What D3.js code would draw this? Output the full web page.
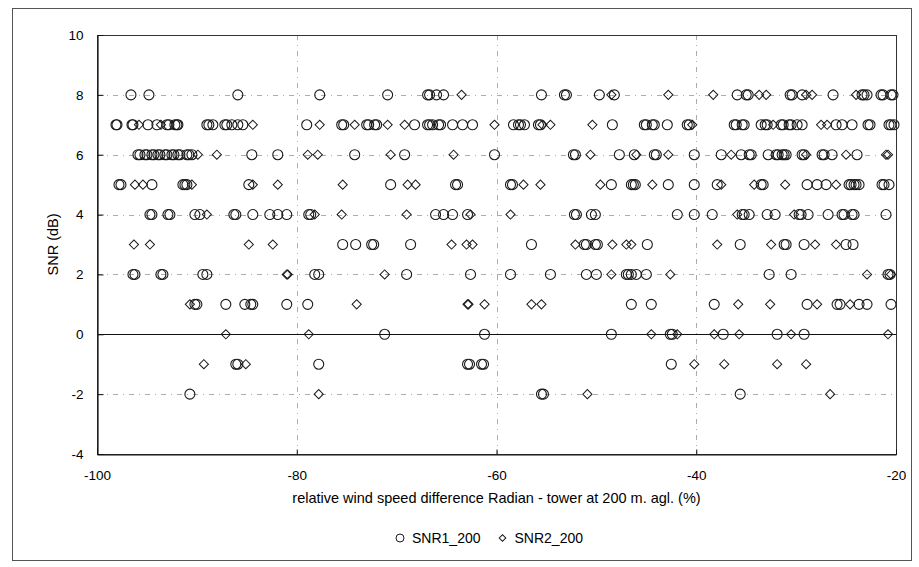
<!DOCTYPE html>
<html>
<head>
<meta charset="utf-8">
<script src="https://cdn.jsdelivr.net/npm/d3@7"></script>
<style>
  html, body { margin: 0; padding: 0; background: #fff; }
  svg { display: block; }
  text { font-family: "Liberation Sans", Arial, sans-serif; fill: #000; }
</style>
</head>
<body>
<svg id="chart" width="919" height="567"></svg>
<script>
// ---------- data ----------
const snrLevels = [8, 7, 6, 5, 4, 3, 2, 1, 0, -1, -2];

// SNR1_200 (circles): relative wind speed difference (%) per SNR level, same order as snrLevels
const snr1Diff = [
  [-96.6, -94.8, -85.9, -77.7, -70.9, -66.9, -66.7, -66.0, -65.3, -55.5, -53.2, -53.0, -49.7, -48.2, -35.9, -35.0, -34.8, -30.6, -30.4, -29.4, -26.3, -23.4, -23.2, -22.9, -21.5, -21.3, -20.5, -20.3],
  [-98.1, -98.0, -96.5, -96.4, -94.9, -94.0, -93.0, -92.8, -92.2, -92.0, -91.9, -89.0, -88.8, -88.4, -87.2, -87.0, -86.5, -85.9, -85.4, -79.0, -75.5, -75.3, -73.0, -72.8, -72.2, -72.0, -68.2, -66.9, -66.7, -66.4, -65.8, -65.6, -64.4, -63.4, -62.4, -58.3, -57.8, -57.6, -57.2, -55.8, -55.6, -48.4, -45.2, -45.0, -44.4, -44.2, -42.9, -40.9, -40.7, -36.2, -36.0, -35.4, -35.2, -33.5, -33.1, -32.9, -31.5, -31.3, -30.7, -30.5, -29.9, -29.4, -26.0, -25.4, -24.4, -22.8, -22.6, -20.7, -20.5, -20.2],
  [-95.9, -95.7, -95.2, -95.0, -94.5, -94.3, -93.9, -93.7, -93.2, -93.0, -92.5, -92.3, -91.9, -91.7, -91.0, -90.8, -90.5, -84.5, -81.9, -74.2, -69.2, -60.2, -52.3, -52.1, -47.7, -46.2, -44.2, -44.0, -40.2, -37.5, -35.5, -34.7, -34.5, -32.8, -32.0, -31.8, -31.4, -31.2, -31.0, -29.4, -29.2, -27.4, -27.2, -26.4, -23.9],
  [-97.8, -97.6, -94.5, -91.4, -91.2, -91.0, -84.8, -70.6, -64.1, -63.9, -58.6, -58.4, -48.5, -46.5, -46.3, -46.1, -42.8, -40.2, -37.9, -33.5, -33.3, -28.9, -27.9, -27.0, -24.7, -24.5, -24.2, -24.0, -23.7, -21.4, -21.2, -20.7],
  [-94.7, -94.5, -92.9, -92.7, -90.2, -89.7, -86.3, -86.1, -84.4, -82.7, -81.9, -81.0, -78.8, -78.6, -66.1, -65.3, -64.4, -62.9, -52.2, -52.0, -50.5, -50.1, -41.9, -40.2, -38.4, -35.4, -35.2, -34.7, -32.9, -32.1, -29.7, -29.5, -28.8, -26.8, -25.4, -25.2, -24.4, -24.2, -21.0],
  [-75.4, -74.1, -72.5, -72.3, -68.6, -56.5, -51.2, -51.0, -50.1, -49.9, -44.9, -35.6, -31.2, -31.0, -29.2, -25.0, -24.3],
  [-96.4, -96.2, -93.6, -93.4, -89.4, -89.0, -78.2, -77.8, -69.0, -62.6, -58.6, -54.6, -51.0, -50.0, -47.0, -46.8, -46.5, -46.0, -45.0, -32.7, -30.5, -20.8, -20.6],
  [-90.2, -90.0, -87.1, -85.2, -84.6, -84.4, -81.0, -78.9, -46.5, -44.5, -38.2, -28.9, -25.9, -25.6, -23.7, -22.9, -20.5],
  [-71.2, -61.2, -48.5, -42.6, -42.4, -37.3, -31.9, -29.2],
  [-86.1, -85.9, -77.8, -62.9, -62.7, -61.5, -61.3, -42.5],
  [-90.7, -55.5, -55.3, -35.6]
];

// SNR2_200 (diamonds): relative wind speed difference (%) per SNR level, same order as snrLevels
const snr2Diff = [
  [-63.5, -48.5, -42.8, -38.3, -33.7, -33.0, -29.0, -28.4, -24.0],
  [-95.8, -93.6, -84.4, -77.7, -74.2, -70.9, -69.2, -60.2, -55.4, -54.6, -50.4, -40.4, -32.3, -27.5, -26.9],
  [-89.9, -88.0, -78.9, -77.9, -70.6, -64.3, -50.6, -46.0, -42.8, -36.5, -29.0, -25.0, -21.0, -20.8],
  [-96.2, -95.4, -90.5, -84.4, -81.9, -75.4, -68.9, -68.1, -57.3, -55.6, -49.6, -44.4, -37.5, -34.2, -31.1, -26.0],
  [-89.0, -78.2, -75.5, -69.0, -62.6, -58.6, -35.9, -30.2],
  [-96.3, -94.7, -84.8, -82.4, -64.5, -63.0, -62.4, -52.1, -48.4, -47.0, -46.5, -37.9, -32.5, -28.1, -26.0],
  [-81.0, -80.9, -71.2, -48.5, -42.6, -22.9, -20.5],
  [-90.7, -74.0, -62.9, -62.8, -61.2, -56.5, -55.5, -35.8, -32.6, -27.9, -24.6],
  [-87.1, -78.8, -44.5, -41.9, -38.2, -35.7, -30.5, -20.8],
  [-89.3, -85.1, -40.2, -37.2, -31.9, -29.0],
  [-77.8, -50.9, -26.6]
];

const xTicks = [-100, -80, -60, -40, -20];
const yTicks = [-4, -2, 0, 2, 4, 6, 8, 10];
const seriesNames = ["SNR1_200", "SNR2_200"];
const xTitle = "relative wind speed difference Radian - tower at 200 m. agl. (%)";
const yTitle = "SNR (dB)";

// ---------- layout ----------
const svg = d3.select("#chart");
const plot = { left: 97, top: 35, right: 896, bottom: 454 };
const FONT = '"Liberation Sans", Arial, sans-serif';
const fmt = d => String(d); // plain hyphen-minus like the original

const x = d3.scaleLinear().domain([-100, -20]).range([plot.left, plot.right]);
const y = d3.scaleLinear().domain([-4, 10]).range([plot.bottom, plot.top]);

// outer chart frame
svg.append("rect")
  .attr("x", 12.5).attr("y", 8.5).attr("width", 899).attr("height", 552)
  .attr("fill", "#fff").attr("stroke", "#555").attr("stroke-width", 1);

// grid lines
const grid = svg.append("g");
grid.selectAll("line.h").data(yTicks.filter(d => d !== 0 && d !== -4 && d !== 10))
  .join("line")
  .attr("x1", plot.left).attr("x2", plot.right)
  .attr("y1", d => Math.round(y(d)) + 0.5).attr("y2", d => Math.round(y(d)) + 0.5)
  .attr("stroke", "#ababab").attr("stroke-width", 1)
  .attr("stroke-dasharray", "5,5,1,5");
grid.selectAll("line.v").data(xTicks.filter(d => d !== -100 && d !== -20))
  .join("line")
  .attr("y1", plot.top).attr("y2", plot.bottom)
  .attr("x1", d => Math.round(x(d)) + 0.5).attr("x2", d => Math.round(x(d)) + 0.5)
  .attr("stroke", "#ababab").attr("stroke-width", 1)
  .attr("stroke-dasharray", "5,5,1,5");

// zero line
svg.append("line")
  .attr("x1", plot.left).attr("x2", plot.right)
  .attr("y1", Math.round(y(0)) + 0.5).attr("y2", Math.round(y(0)) + 0.5)
  .attr("stroke", "#111").attr("stroke-width", 1.2);

// plot border
svg.append("rect")
  .attr("x", plot.left + 0.5).attr("y", plot.top + 0.5)
  .attr("width", plot.right - plot.left).attr("height", plot.bottom - plot.top)
  .attr("fill", "none").attr("stroke", "#333").attr("stroke-width", 1);

// axes
const xAxis = d3.axisBottom(x).tickValues(xTicks).tickFormat(fmt)
  .tickSizeInner(-5).tickSizeOuter(0).tickPadding(16);
const yAxis = d3.axisLeft(y).tickValues(yTicks).tickFormat(fmt)
  .tickSizeInner(-6).tickSizeOuter(0).tickPadding(14);

const gx = svg.append("g").attr("transform", `translate(0,${plot.bottom + 0.5})`).call(xAxis);
const gy = svg.append("g").attr("transform", `translate(${plot.left + 0.5},0)`).call(yAxis);
[gx, gy].forEach(g => {
  g.attr("font-family", FONT).attr("font-size", 13.5);
  g.select(".domain").attr("stroke", "#111").attr("stroke-width", 1.2);
  g.selectAll(".tick line").attr("stroke", "#111");
  g.selectAll(".tick text").attr("fill", "#000");
});

// axis titles
svg.append("text")
  .attr("x", x(-60)).attr("y", 503)
  .attr("text-anchor", "middle").attr("font-size", 14.5)
  .text(xTitle);
svg.append("text")
  .attr("transform", `translate(58,${(plot.top + plot.bottom) / 2}) rotate(-90)`)
  .attr("text-anchor", "middle").attr("font-size", 14.5)
  .text(yTitle);

// points
const circlePts = [];
snr1Diff.forEach((row, i) => row.forEach(v => circlePts.push({ x: v, y: snrLevels[i] })));
const diamondPts = [];
snr2Diff.forEach((row, i) => row.forEach(v => diamondPts.push({ x: v, y: snrLevels[i] })));

const diamondPath = d3.symbol().type(d3.symbolSquare).size(42)();

svg.append("g").selectAll("path")
  .data(diamondPts).join("path")
  .attr("d", diamondPath)
  .attr("transform", d => `translate(${x(d.x)},${y(d.y)}) rotate(45)`)
  .attr("fill", "none").attr("stroke", "#1a1a1a").attr("stroke-width", 1);

svg.append("g").selectAll("circle")
  .data(circlePts).join("circle")
  .attr("cx", d => x(d.x)).attr("cy", d => y(d.y)).attr("r", 5)
  .attr("fill", "none").attr("stroke", "#1a1a1a").attr("stroke-width", 1.1);

// legend
const legend = svg.append("g").attr("transform", "translate(400,538)")
  .attr("font-family", FONT).attr("font-size", 14);
legend.append("circle").attr("cx", 0).attr("cy", 0).attr("r", 4)
  .attr("fill", "none").attr("stroke", "#1a1a1a").attr("stroke-width", 1);
const t1 = legend.append("text").attr("x", 12).attr("y", 5).text(seriesNames[0]);
const w1 = t1.node().getComputedTextLength();
const dx = 12 + w1 + 22;
legend.append("path").attr("d", d3.symbol().type(d3.symbolSquare).size(22)())
  .attr("transform", `translate(${dx},0) rotate(45)`)
  .attr("fill", "none").attr("stroke", "#1a1a1a").attr("stroke-width", 1);
legend.append("text").attr("x", dx + 12).attr("y", 5).text(seriesNames[1]);
</script>
</body>
</html>
